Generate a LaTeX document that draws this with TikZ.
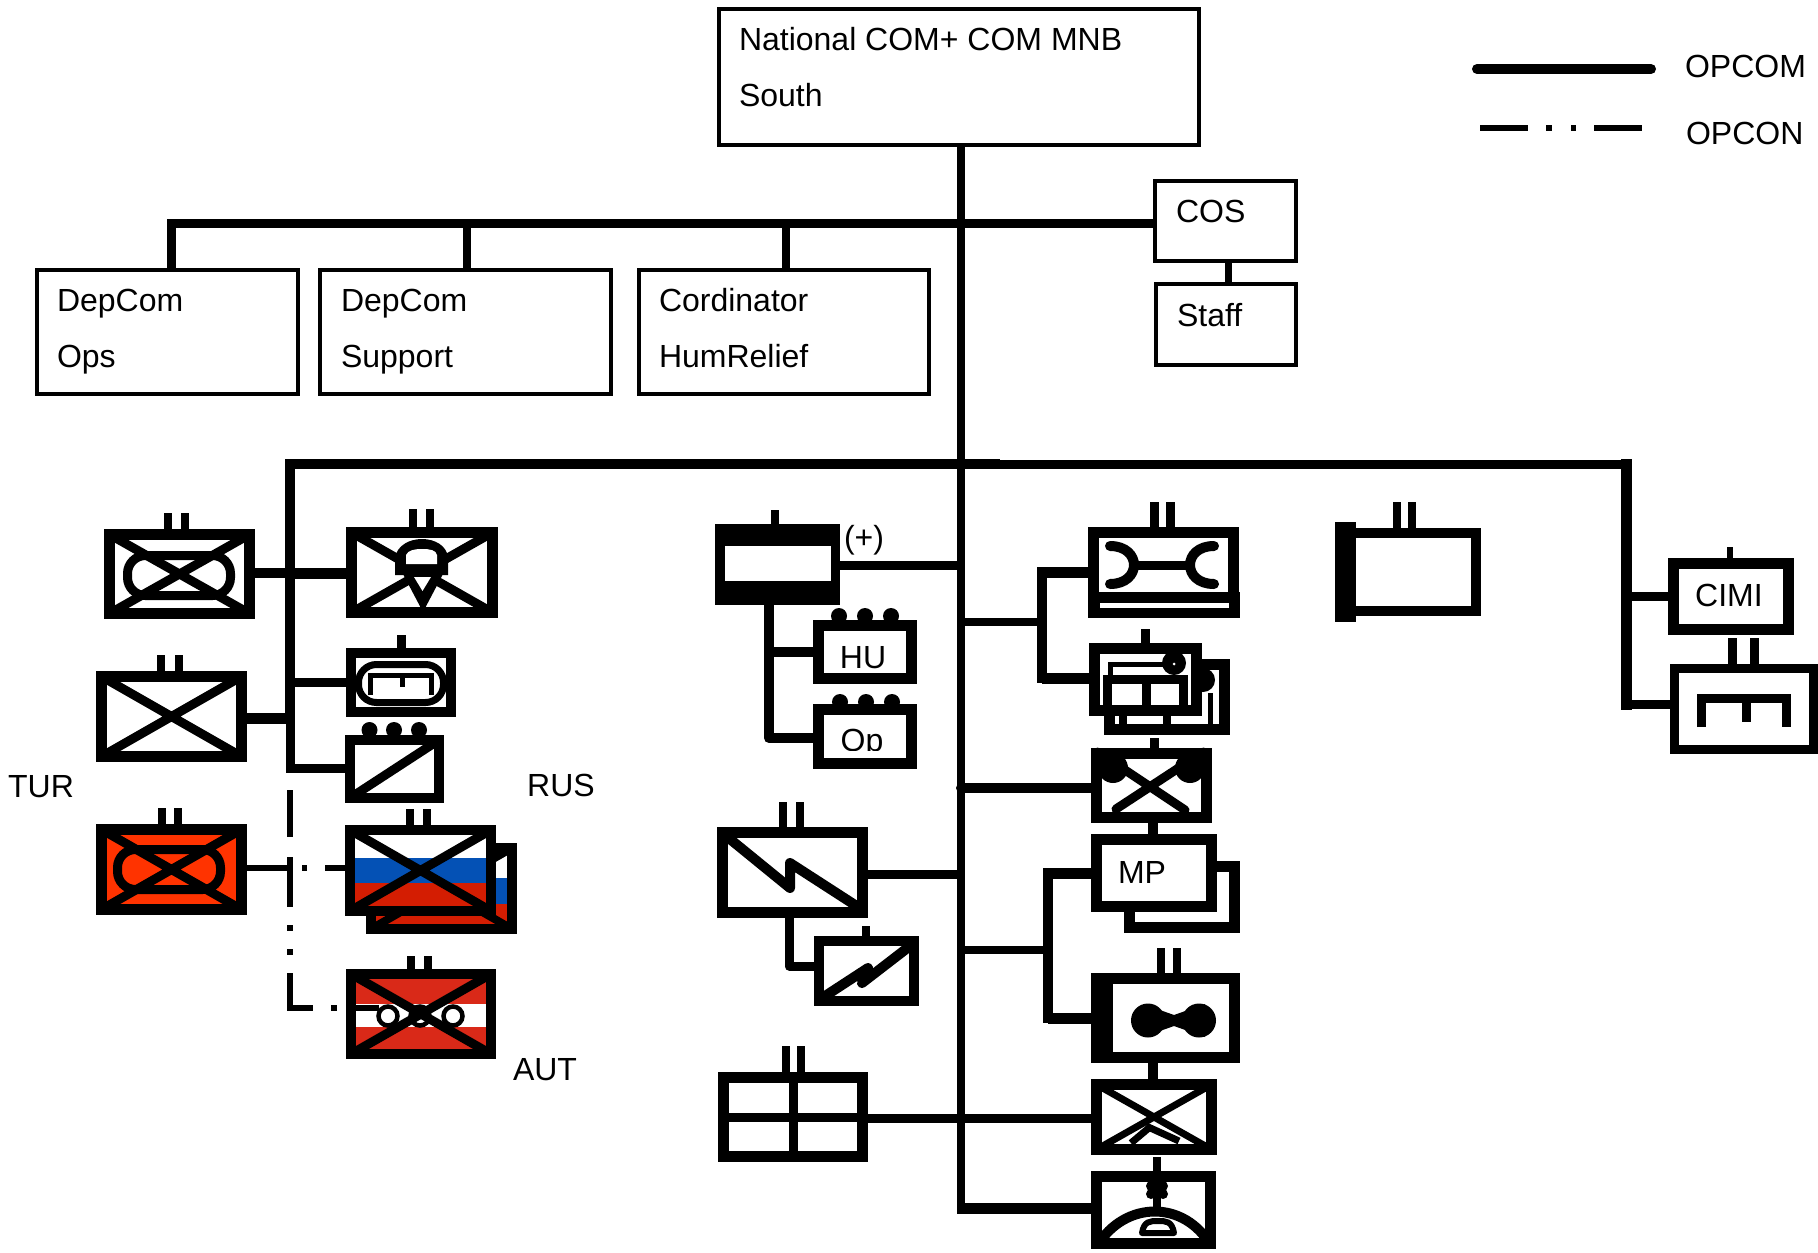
\documentclass[tikz,border=0pt]{standalone}
\usepackage{fontspec}
\setmainfont{Liberation Sans}
\definecolor{turorange}{HTML}{FF3300}
\definecolor{rusblue}{HTML}{0451B5}
\definecolor{rusred}{HTML}{D41D02}
\definecolor{autred}{HTML}{D92918}
\tikzset{
  unit/.style={draw=black,rectangle,inner sep=0pt,outer sep=0pt},
  plainbox/.style={draw=black,rectangle,line width=4.5pt,inner sep=0pt,outer sep=0pt},
  txt/.style={inner sep=0pt,outer sep=0pt,font=\fontsize{32}{34}\selectfont,text=black},
  lnk/.style={line width=#1pt,draw=black,line cap=butt,line join=miter},
  lnk/.default=9,
  glyph/.style={line width=#1pt,draw=black},
  glyph/.default=9,
}
\newcommand{\unitrect}[7][]{\node[unit,line width=#7pt,minimum width={(#5-#3-#7)*1pt},minimum height={(#6-#4-#7)*1pt},#1] (#2) at ({(#3+#5)/2},{(#4+#6)/2}) {};}
\newcommand{\crossbox}[2][9]{\draw[glyph=#1,shorten >=0pt] (#2.north west) -- (#2.south east) (#2.south west) -- (#2.north east);}
\newcommand{\tabmark}[4]{\draw[glyph=#4] (#1,#2) -- (#1,#3);}
\begin{document}
\begin{tikzpicture}[x=1pt,y=-1pt]
\useasboundingbox (0,0) rectangle (1818,1253);
% named junctions
\coordinate (mainTop) at (961,145);
\coordinate (mainEnd) at (961,1213);
\coordinate (mainCorner) at (957,1208);
\coordinate (hbusL) at (171,223);
\coordinate (hbusM) at (961,223);
\coordinate (busL) at (290,464);
\coordinate (busM) at (961,464);
\coordinate (busMid) at (1000,464);
\coordinate (busR) at (1626,464);
\coordinate (leftEnd) at (290,768);
\coordinate (rightEnd) at (1626,704);
\coordinate (opLeft) at (290,790);
\coordinate (opCorner) at (290,1008);
\coordinate (opEnd) at (379,1008);
\coordinate (turJ) at (290,868);
\coordinate (jA) at (290,573);
\coordinate (jE) at (290,718);
\coordinate (jC) at (290,682);
\coordinate (jPlus) at (961,565);
\coordinate (jUp) at (961,622);
\coordinate (gUp) at (1042,622);
\coordinate (gUpA) at (1042,572);
\coordinate (gUpB) at (1042,678);
\coordinate (jAt) at (961,788);
\coordinate (jEng) at (961,874);
\coordinate (jLow) at (961,950);
\coordinate (gLow) at (1048,950);
\coordinate (gLowA) at (1048,873);
\coordinate (gLowB) at (1048,1018);
\coordinate (jGrid) at (961,1118);
\coordinate (plusV) at (769,652);
\coordinate (plusW) at (769,738);
\coordinate (engV) at (789,966);
\coordinate (rCimi) at (1626,596);
% top boxes
\node[plainbox,minimum width=480pt,minimum height=136pt] (top) at (959,77) {};
\node[plainbox,minimum width=261pt,minimum height=124pt] (dep1) at (167.5,332) {};
\node[plainbox,minimum width=291pt,minimum height=124pt] (dep2) at (465.5,332) {};
\node[plainbox,minimum width=290pt,minimum height=124pt] (cord) at (784,332) {};
\node[plainbox,minimum width=141pt,minimum height=80pt] (cos) at (1225.5,221) {};
\node[plainbox,minimum width=140pt,minimum height=81pt] (staff) at (1226,324.5) {};
\node[txt,anchor=base west] (t1) at (739,50) {National COM+ COM MNB};
\node[txt,anchor=base west] (t2) at (739,106) {South};
\node[txt,anchor=base west] (t3) at (57,311) {DepCom};
\node[txt,anchor=base west] (t4) at (57,367) {Ops};
\node[txt,anchor=base west] (t5) at (341,311) {DepCom};
\node[txt,anchor=base west] (t6) at (341,367) {Support};
\node[txt,anchor=base west] (t7) at (659,311) {Cordinator};
\node[txt,anchor=base west] (t8) at (659,367) {HumRelief};
\node[txt,anchor=base west] (t9) at (1176,222) {COS};
\node[txt,anchor=base west] (t10) at (1177,326) {Staff};
% top connectors
\draw[lnk=8] (mainTop) -- (mainEnd);
\draw[lnk=9] (dep1.north -| hbusL) -- (hbusL) -- (cos.west |- hbusL);
\draw[lnk=8] (dep2.north -| 467,0) -- (467,223);
\draw[lnk=8] (cord.north -| 786,0) -- (786,223);
\draw[lnk=7] (cos.south -| 1228,0) -- (staff.north -| 1228,0);
% bus
\draw[lnk=10] (jE) -- (busL) -- (busMid);
\draw[lnk=9] (jE) -- (leftEnd);
\draw[lnk=9] (busMid) -- (busR);
\draw[lnk=11,line cap=rect] (rightEnd) -- (busR);
% left column units
\unitrect[fill=white]{unitA}{104}{529}{255}{619}{11}
\tabmark{168}{513}{529}{8}\tabmark{185}{513}{529}{8}
\draw[glyph=9,rounded corners=18pt] (127.5,555.5) rectangle (230.5,595.5);
\crossbox{unitA}
\unitrect[fill=white]{unitB}{346}{527}{498}{618}{11}
\tabmark{413}{509}{527}{8}\tabmark{430}{509}{527}{8}
\crossbox{unitB}
\fill[black] (395,575) -- (395,558) .. controls (397,545) and (410,539) .. (422,539) .. controls (434,539) and (447,545) .. (448,558) -- (448,575) -- cycle;
\fill[white] (406,564) -- (406,555) .. controls (408,550) and (415,549) .. (422,549) .. controls (430,549) and (436,550) .. (437,555) -- (437,564) -- cycle;
\fill[black] (403,574) -- (423,612) -- (443,574) -- cycle;
\fill[white] (414,577) -- (431,577) -- (422.5,591) -- cycle;
\unitrect[fill=white]{unitC}{346}{648}{456}{717}{10}
\tabmark{401.5}{635}{648}{9}
\draw[glyph=7,rounded corners=18pt] (358.5,664.5) rectangle (443.5,702.5);
\draw[glyph=5] (370,695) -- (370,675) -- (431,675) -- (431,695) (402,675) -- (402,687);
\unitrect[fill=white]{unitD}{345}{735}{444}{803}{10}
\fill[black] (369.5,730) circle (8) (394,730) circle (8) (419,730) circle (8);
\draw[glyph=9] (unitD.south west) -- (unitD.north east);
\unitrect[fill=white]{unitE}{96}{671}{247}{762}{11}
\tabmark{161}{655}{671}{8}\tabmark{179}{655}{671}{8}
\crossbox{unitE}
\draw[lnk=10] (unitA.east |- jA) -- (jA);
\draw[lnk=11] (unitB.west |- jA) -- (jA);
\draw[lnk=9] (unitC.west |- jC) -- (jC);
\draw[lnk=11] (unitE.east |- jE) -- (jE);
\draw[lnk=9,line cap=rect] (unitD.west |- leftEnd) -- (leftEnd);
% TUR
\unitrect[fill=turorange]{unitTur}{96}{824}{247}{915}{11}
\tabmark{161.5}{808}{824}{8}\tabmark{178}{808}{824}{8}
\draw[glyph=9,rounded corners=18pt] (117.5,849.5) rectangle (220.5,889.5);
\crossbox{unitTur}
% RUS
\fill[white] (371,848) rectangle (512,878);
\fill[rusblue] (371,878) rectangle (512,904);
\fill[rusred] (371,904) rectangle (512,929);
\unitrect{unitRb}{366}{843}{517}{934}{10}
\crossbox[8]{unitRb}
\fill[white] (350,830) rectangle (491,858);
\fill[rusblue] (350,858) rectangle (491,883);
\fill[rusred] (350,883) rectangle (491,911);
\unitrect{unitR}{345}{825}{496}{916}{10}
\tabmark{410}{809}{825}{8}\tabmark{426.5}{809}{825}{8}
\crossbox{unitR}
% AUT
\fill[autred] (351,974) rectangle (491,1054);
\fill[white] (351,1004) rectangle (491,1027);
\unitrect{unitAut}{346}{969}{496}{1059}{10}
\tabmark{410.5}{956}{969}{8}\tabmark{427.5}{956}{969}{8}
% OPCON links
\draw[lnk=6,dash pattern=on 47pt off 20pt on 50pt off 18pt on 6pt off 18pt on 6pt off 18pt on 58pt off 18pt on 6pt off 19pt on 30pt] (opLeft) -- (opCorner) -- (opEnd);
\draw[lnk=5.5] (unitTur.east |- turJ) -- (turJ);
\draw[lnk=6,dash pattern=on 0pt off 12pt on 5pt off 18pt on 25pt] (turJ) -- (unitR.west |- turJ);
\draw[glyph=4.5,fill=white] (388,1016) circle (9.5) (453,1016) circle (9.5);
\draw[glyph=4.5,fill=white] (420,1016) circle (9.5);
\crossbox{unitAut}
% middle column
\unitrect[fill=black]{plus}{715}{524}{840}{605}{1}
\fill[white] (725,546) rectangle (831,581);
\tabmark{775}{510}{524}{8}
\node[txt,anchor=base] (tplus) at (864,548) {(+)};
\unitrect[fill=white]{hu}{813}{620}{917}{684}{11}
\unitrect[fill=white]{op}{813}{704}{917}{769}{11}
\fill[black] (839,616) circle (8) (865,616) circle (8) (891,616) circle (8);
\fill[black] (840,702) circle (8) (866,702) circle (8) (892,702) circle (8);
\node[txt,anchor=base] (thu) at (863,668) {HU};
\begin{scope}
\clip (820,712) rectangle (910,750);
\node[txt,anchor=base] (top2) at (862,751) {Op};
\end{scope}
\draw[lnk=9] (plus.east |- jPlus) -- (jPlus);
\draw[lnk=10,line join=round] (plus.south -| plusV) -- (plusW) -- (op.west |- plusW);
\draw[lnk=10] (plusV) -- (hu.west |- plusV);
\unitrect[fill=white]{eng}{717}{827}{868}{918}{11}
\tabmark{783}{802}{827}{8}\tabmark{800}{802}{827}{8}
\draw[glyph=10,line join=round,line cap=round] (725,835) -- (790,888) -- (790,863) -- (855,905);
\unitrect[fill=white]{engs}{814}{936}{919}{1006}{10}
\tabmark{866}{926}{936}{8}
\draw[glyph=10,line join=round,line cap=round] (822,998) -- (868,968) -- (862,983) -- (910,946);
\draw[lnk=9] (eng.east |- jEng) -- (jEng);
\draw[lnk=9,line join=round] (eng.south -| engV) -- (engV) -- (engs.west |- engV);
\unitrect[fill=white]{grid}{718}{1072}{868}{1162}{11}
\draw[glyph=9] (grid.west) -- (grid.east) (grid.north -| 793,0) -- (grid.south -| 793,0);
\tabmark{786}{1046}{1072}{8}\tabmark{801}{1046}{1072}{8}
% upper right group
\draw[lnk=8] (jUp) -- (gUp);
\draw[lnk=10,line cap=rect] (gUpA) -- (gUpB);
\unitrect[fill=white]{maint}{1088}{527}{1239}{618}{11}
\fill[black] (1088,592) rectangle (1240,618);
\fill[white] (1100,603) rectangle (1229,608);
\tabmark{1154}{502}{527}{9}\tabmark{1170}{502}{527}{9}
\draw[glyph=10,line cap=round] (1110,546) .. controls (1142,546) and (1142,584) .. (1110,584);
\draw[glyph=10,line cap=round] (1214,546) .. controls (1182,546) and (1182,584) .. (1214,584);
\draw[glyph=9] (1135,565) -- (1190,565);
\unitrect[fill=white]{sigb}{1104}{659}{1230}{735}{11}
\unitrect[fill=white]{sigf}{1089}{643}{1202}{716}{11}
\tabmark{1145.5}{629}{643}{9}
\draw[glyph=9] (1107.5,706) -- (1107.5,679.5) -- (1183.5,679.5) -- (1183.5,706) (1146,679.5) -- (1146,706);
\draw[glyph=5] (1110,676) -- (1110,664) -- (1172,664);
\fill[black] (1174,663) circle (12);
\fill[white] (1174,664) circle (1.5);
\fill[black] (1203,680) circle (12);
\draw[glyph=5] (1210,693) -- (1210,727);
\draw[glyph=8] (1123,716) -- (1123,728) (1167,716) -- (1167,728) (1110,716) -- (1110,728);
\draw[lnk=11] (gUpA) -- (maint.west |- gUpA);
\draw[lnk=11] (gUpB) -- (sigf.west |- gUpB);
% box with blobs
\fill[black] (1113,768) circle (15) (1190,768) circle (15);
\unitrect{spec}{1091}{748}{1212}{823}{11}
\tabmark{1154.5}{738}{748}{9}
\draw[glyph=9,line cap=round] (1098,752) -- (1185,810) (1203,752) -- (1116,809);
\draw[lnk=10,line cap=round] (jAt) -- (spec.west |- jAt);
% MP
\unitrect[fill=white]{mpb}{1124}{861}{1240}{933}{11}
\unitrect[fill=white]{mpf}{1091}{834}{1217}{912}{11}
\node[txt,anchor=base] (tmp) at (1142,883) {MP};
\draw[lnk=10] (spec.south -| 1152.5,0) -- (mpf.north -| 1152.5,0);
% lower right group
\draw[lnk=8,line cap=round] (jLow) -- (gLow);
\draw[lnk=10,line cap=rect] (gLowA) -- (gLowB);
\draw[lnk=11] (gLowA) -- (mpf.west |- gLowA);
\unitrect[fill=white]{bridge}{1091}{973}{1240}{1063}{11}
\fill[black] (1091,973) rectangle (1113,1063);
\tabmark{1160.5}{948}{973}{8}\tabmark{1177}{948}{973}{8}
\fill[black] (1148,1020.5) circle (17) (1199,1020.5) circle (17);
\fill[black] (1143,1004) -- (1174,1015) -- (1205,1004) -- (1205,1037) -- (1174,1026) -- (1143,1037) -- cycle;
\draw[lnk=11] (gLowB) -- (bridge.west |- gLowB);
\unitrect[fill=white]{xbox}{1091}{1079}{1217}{1155}{11}
\crossbox[7]{xbox}
\draw[glyph=7] (1131,1143) -- (1150,1127) (1179,1141) -- (1146,1126);
\draw[lnk=10] (xbox.north -| 1153,0) -- (bridge.south -| 1153,0);
\draw[lnk=9] (grid.east |- jGrid) -- (xbox.west |- jGrid);
\unitrect[fill=white]{lastb}{1091}{1171}{1216}{1249}{11}
\draw[glyph=10] (1097,1246) .. controls (1125,1200) and (1185,1200) .. (1211,1246);
\draw[glyph=8] (1157,1157) -- (1157,1210);
\fill[black] (1157,1190) circle (8) (1151,1186) circle (5) (1163,1186) circle (5) (1151,1194) circle (5) (1163,1194) circle (5);
\draw[glyph=6,fill=white,line join=round] (1142,1233) .. controls (1144,1221) and (1150,1221) .. (1158,1221) .. controls (1166,1221) and (1172,1221) .. (1174,1233) -- cycle;
\draw[lnk=11] (mainCorner) -- (lastb.west |- mainCorner);
% right column
\unitrect[fill=white]{blank}{1344}{528}{1481}{616}{10}
\fill[black] (1335,522) rectangle (1356,622);
\tabmark{1397}{502}{528}{8}\tabmark{1412}{502}{528}{8}
\unitrect[fill=white]{cimi}{1668}{558}{1794}{635}{11}
\tabmark{1730}{547}{558}{6}
\node[txt,anchor=base] (tcimi) at (1729,606) {CIMI};
\draw[lnk=9] (rCimi) -- (cimi.west |- rCimi);
\unitrect[fill=white]{supp}{1670}{664}{1818}{754}{9}
\tabmark{1732.5}{638}{664}{9}\tabmark{1754}{638}{664}{9}
\draw[glyph=9] (1701,727) -- (1701,698) -- (1786,698) -- (1786,727) (1746,698) -- (1746,722);
\draw[lnk=9] (rightEnd) -- (supp.west |- rightEnd);
% legend
\coordinate (legA) at (1477,69);
\coordinate (legB) at (1651,69);
\coordinate (legC) at (1480,128);
\coordinate (legD) at (1642,128);
\draw[lnk=10,line cap=round] (legA) -- (legB);
\draw[lnk=6,dash pattern=on 48pt off 18pt on 6pt off 19pt on 5pt off 18pt on 48pt] (legC) -- (legD);
\node[txt,anchor=base west] (opcom) at (1685,77) {OPCOM};
\node[txt,anchor=base west] (opcon) at (1686,144) {OPCON};
% country labels
\node[txt,anchor=base] (tur) at (41,797) {TUR};
\node[txt,anchor=base] (rus) at (561,796) {RUS};
\node[txt,anchor=base] (aut) at (545,1080) {AUT};
\end{tikzpicture}
\end{document}
